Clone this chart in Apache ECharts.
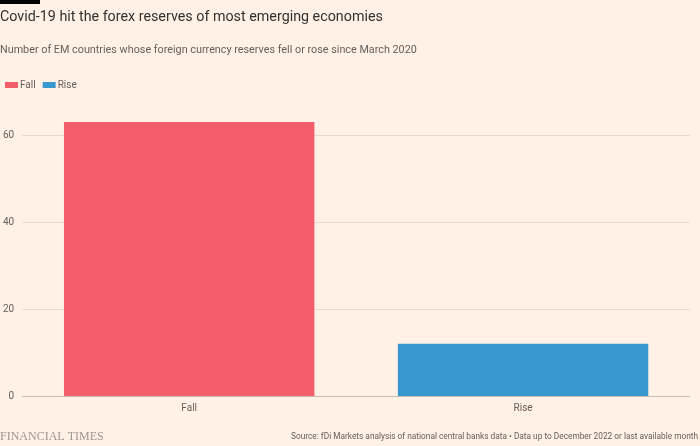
<!DOCTYPE html>
<html><head><meta charset="utf-8">
<script src="https://cdn.jsdelivr.net/npm/echarts@6/dist/echarts.min.js"></script>
<style>html,body{margin:0;padding:0;background:#fff1e5}#c{width:700px;height:446px}</style>
</head><body><div id="c"></div>
<script>
const categories = ['Fall', 'Rise'];
const fallValues = [63, '-'];
const riseValues = ['-', 12];
const yTicks = [0, 20, 40, 60];

const chart = echarts.init(document.getElementById('c'), null, {renderer: 'canvas'});
const font = 'Roboto';
chart.setOption({
  backgroundColor: '#fff1e5',
  animation: false,
  graphic: [
    {type: 'rect', left: 0, top: 0, shape: {width: 40, height: 4}, style: {fill: '#000'}},
    {type: 'text', left: 0, top: 10, style: {text: 'Covid-19 hit the forex reserves of most emerging economies', fontFamily: font, fontSize: 14.3, fill: '#33302e'}},
    {type: 'text', left: 0, top: 45, style: {text: 'Number of EM countries whose foreign currency reserves fell or rose since March 2020', fontFamily: font, fontSize: 10.8, fill: '#66605c'}},
    {type: 'text', left: 0, top: 431, style: {text: 'FINANCIAL TIMES', fontFamily: 'Liberation Serif', fontSize: 12, fill: '#9e9690'}},
    {type: 'text', right: 2, top: 433, style: {text: 'Source: fDi Markets analysis of national central banks data \u2022 Data up to December 2022 or last available month', fontFamily: font, fontSize: 8.3, fill: '#66605c'}}
  ],
  legend: {
    left: 0, top: 75,
    icon: 'rect', itemWidth: 13, itemHeight: 6, itemGap: 7,
    textStyle: {fontFamily: font, fontSize: 10, color: '#66605c', padding: [0, 0, 0, -3]},
    data: ['Fall', 'Rise']
  },
  grid: {left: 20, right: 10, top: 135, bottom: 50, containLabel: false},
  xAxis: {
    type: 'category', data: categories,
    axisLine: {lineStyle: {color: '#c9bdb3', width: 1}},
    axisTick: {alignWithLabel: true, length: 4, lineStyle: {color: '#c9bdb3'}},
    axisLabel: {fontFamily: font, fontSize: 10, color: '#66605c', margin: 7}
  },
  yAxis: {
    type: 'value', min: 0, max: 60, interval: 20,
    axisLine: {show: false}, axisTick: {show: false},
    splitLine: {lineStyle: {color: '#e6d9ce', width: 1}},
    axisLabel: {fontFamily: font, fontSize: 10, color: '#66605c', margin: 8, align: 'right'}
  },
  series: [
    {name: 'Fall', type: 'bar', stack: 's', data: fallValues, clip: false, barCategoryGap: '25%', itemStyle: {color: '#f45d6c'}},
    {name: 'Rise', type: 'bar', stack: 's', data: riseValues, clip: false, barCategoryGap: '25%', itemStyle: {color: '#3997cf'}}
  ]
});
</script></body></html>
